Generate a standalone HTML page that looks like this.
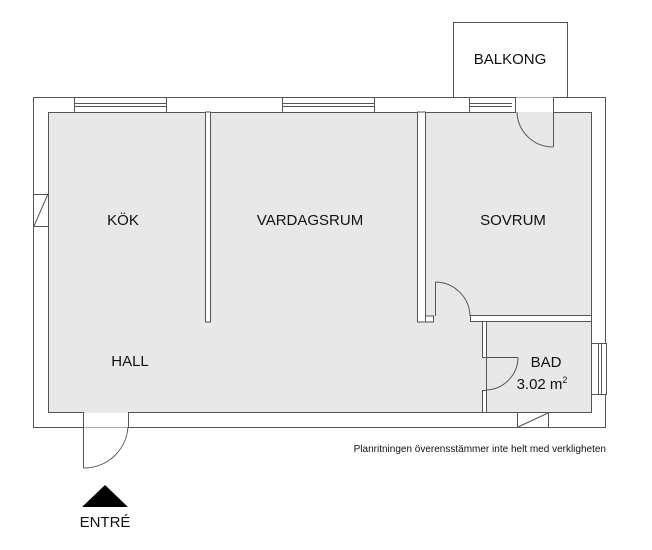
<!DOCTYPE html>
<html><head><meta charset="utf-8"><style>
html,body{margin:0;padding:0;background:#fff;}
svg{display:block;}
text{font-family:"Liberation Sans",Arial,sans-serif;fill:#111;}
</style></head><body>
<svg width="652" height="550" viewBox="0 0 652 550" xmlns="http://www.w3.org/2000/svg">
<g stroke="#555" stroke-width="1">
<!-- balcony -->
<rect x="453.5" y="22.5" width="114" height="75" fill="#fff"/>
<!-- outer wall -->
<rect x="33.5" y="97.5" width="572" height="330" fill="#fff"/>
<!-- interior gray -->
<rect x="48.5" y="112.5" width="543" height="300" fill="#e8e8e8"/>
<!-- wall kök/vardagsrum -->
<rect x="205.5" y="112" width="5" height="210" fill="#fff"/>
<!-- wall vardagsrum/sovrum -->
<rect x="417.5" y="112" width="8" height="210" fill="#fff"/>
<rect x="425.5" y="316" width="8" height="6" fill="#fff"/>
<!-- sovrum bottom wall -->
<rect x="470.5" y="315.5" width="121" height="6" fill="#fff"/>
<!-- bad walls -->
<rect x="482.5" y="321.5" width="109" height="3" fill="#fff" stroke="none"/>
<rect x="482.5" y="321.5" width="4" height="36" fill="#fff"/>
<rect x="482.5" y="390.5" width="4" height="22" fill="#fff"/>
<rect x="486.5" y="321.5" width="105" height="91" fill="#e8e8e8"/>
<!-- balcony door opening -->
<rect x="515.5" y="97.5" width="38" height="15" fill="#fff" stroke="none"/>
<line x1="515.5" y1="97" x2="515.5" y2="112"/>
<line x1="553.5" y1="97" x2="553.5" y2="112"/>
<line x1="515.5" y1="112.5" x2="553.5" y2="112.5" stroke="#e8e8e8"/>
<!-- windows top -->
<g fill="#fff">
<rect x="74.5" y="97.5" width="92" height="15"/>
<rect x="282.5" y="97.5" width="92" height="15"/>
<rect x="469.5" y="97.5" width="46" height="15"/>
</g>
<line x1="75" y1="103.5" x2="166" y2="103.5"/><line x1="75" y1="106.5" x2="166" y2="106.5"/>
<line x1="283" y1="103.5" x2="374" y2="103.5"/><line x1="283" y1="106.5" x2="374" y2="106.5"/>
<line x1="470" y1="103.5" x2="512" y2="103.5"/><line x1="470" y1="106.5" x2="512" y2="106.5"/>
<!-- left window -->
<rect x="33.5" y="194.5" width="15" height="32" fill="#fff"/>
<line x1="34" y1="226" x2="48" y2="194"/>
<!-- right window bad -->
<rect x="591.5" y="343.5" width="15" height="51" fill="#fff"/>
<line x1="598.5" y1="344" x2="598.5" y2="394"/><line x1="601.5" y1="344" x2="601.5" y2="394"/>
<!-- bottom bad window -->
<rect x="517.5" y="412.5" width="31" height="15" fill="#fff"/>
<line x1="518" y1="427" x2="548" y2="413"/>
<!-- entry opening -->
<rect x="83.5" y="412.5" width="45" height="15" fill="#fff" stroke="none"/>
<line x1="83.5" y1="412" x2="83.5" y2="427"/>
<line x1="128.5" y1="412" x2="128.5" y2="427"/>
<line x1="84" y1="412.5" x2="128" y2="412.5" stroke="#e8e8e8"/>
<!-- doors -->
<g fill="none">
<line x1="553.5" y1="112" x2="553.5" y2="147"/>
<path d="M517 112 A36 36 0 0 0 553 147"/>
<line x1="435.5" y1="282" x2="435.5" y2="316"/>
<path d="M435.5 282 A35 35 0 0 1 470 316"/>
<line x1="483" y1="357.5" x2="518" y2="357.5"/>
<path d="M518 357.5 A33 33 0 0 1 486 390"/>
<line x1="83.5" y1="427" x2="83.5" y2="468"/>
<path d="M83.5 468 A44 44 0 0 0 128 427"/>
</g>
</g>
<polygon points="105,485 82,507 128,507" fill="#000"/>
<g font-size="15" text-anchor="middle">
<text x="510" y="64">BALKONG</text>
<text x="123" y="225">KÖK</text>
<text x="310" y="225">VARDAGSRUM</text>
<text x="513" y="225">SOVRUM</text>
<text x="130" y="366">HALL</text>
<text x="546" y="367">BAD</text>
<text x="542" y="389">3.02 m<tspan font-size="9" dy="-6">2</tspan></text>
<text x="105" y="527">ENTRÉ</text>
</g>
<text x="606" y="452" font-size="10" text-anchor="end">Planritningen överensstämmer inte helt med verkligheten</text>
</svg>
</body></html>
